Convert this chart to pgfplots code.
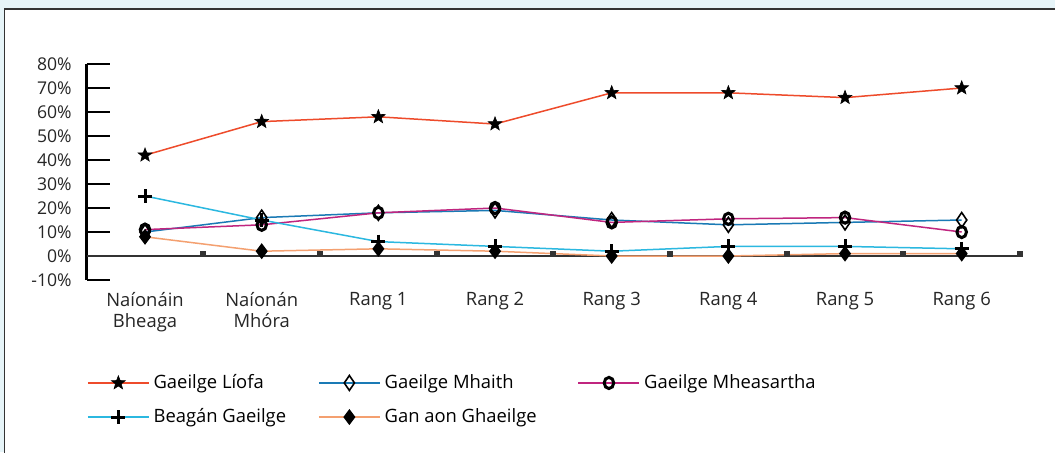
\documentclass[border=0pt]{standalone}
\usepackage{pgfplots}
\pgfplotsset{compat=1.18}
\usepackage{fontspec}
\setmainfont{Open Sans}

\definecolor{bgblue}{HTML}{E6F4F8}
\definecolor{framegray}{HTML}{333333}
\definecolor{zerogray}{HTML}{333333}
\definecolor{cLiofa}{HTML}{EE4B2B}
\definecolor{cMhaith}{HTML}{1A7AB5}
\definecolor{cMheas}{HTML}{C0257F}
\definecolor{cBeagan}{HTML}{2BB8E0}
\definecolor{cGan}{HTML}{F4A070}

% filled five-point star
\pgfdeclareplotmark{fstar}{%
  \pgfpathmoveto{\pgfpointpolar{90}{\pgfplotmarksize}}%
  \pgfpathlineto{\pgfpointpolar{126}{0.42\pgfplotmarksize}}%
  \pgfpathlineto{\pgfpointpolar{162}{\pgfplotmarksize}}%
  \pgfpathlineto{\pgfpointpolar{198}{0.42\pgfplotmarksize}}%
  \pgfpathlineto{\pgfpointpolar{234}{\pgfplotmarksize}}%
  \pgfpathlineto{\pgfpointpolar{270}{0.42\pgfplotmarksize}}%
  \pgfpathlineto{\pgfpointpolar{306}{\pgfplotmarksize}}%
  \pgfpathlineto{\pgfpointpolar{342}{0.42\pgfplotmarksize}}%
  \pgfpathlineto{\pgfpointpolar{18}{\pgfplotmarksize}}%
  \pgfpathlineto{\pgfpointpolar{54}{0.42\pgfplotmarksize}}%
  \pgfpathclose\pgfusepathqfillstroke}

\begin{document}
\begin{tikzpicture}[font=\fontsize{9.2}{10.5}\selectfont]
\useasboundingbox (0,0) rectangle (527.5pt,226pt);
\fill[bgblue] (0,0) rectangle (527.5pt,226pt);
\begin{scope}
  \clip (0,0) rectangle (527.5pt,226pt);
  \filldraw[fill=white,draw=framegray,line width=0.7pt] (2.25pt,-5pt) rectangle (540pt,221.5pt);
\end{scope}
\begin{axis}[
    at={(43.35pt,86pt)}, anchor=south west,
    scale only axis, width=466.67pt, height=108pt,
    xmin=-0.5, xmax=7.5, ymin=-10, ymax=80,
    axis y line*=left, axis x line*=bottom,
    x axis line style={draw=none},
    y axis line style={line width=1.5pt,black},
    xtick={0,...,7},
    xticklabels={{Naíonáin\\Bheaga},{Naíonán\\Mhóra},Rang 1,Rang 2,Rang 3,Rang 4,Rang 5,Rang 6},
    xticklabel style={align=center,yshift=-2.5pt,text=black!85},
    major x tick style={draw=none},
    ytick={-10,0,...,80},
    ytick align=inside, major tick length=11.5pt,
    major y tick style={line width=0.65pt,black},
    yticklabel={\pgfmathprintnumber{\tick}\%},
    yticklabel style={xshift=-4pt,text=black!85,font=\fontsize{8.8}{10}\selectfont},
    tick label style={/pgf/number format/assume math mode=true},
    every axis plot/.append style={line width=0.75pt},
    legend columns=3,
    legend cell align=left,
    legend style={draw=none,fill=none,at={(0,0)},anchor=north west,
        yshift=-45pt,inner sep=0pt,row sep=4.5pt,
        /tikz/column 2/.style={column sep=14pt},
        /tikz/column 4/.style={column sep=18.5pt}},
    legend image code/.code={%
        \draw[mark repeat=2,mark phase=2,#1]
            plot coordinates {(0pt,0pt) (15.25pt,0pt) (30.5pt,0pt)};},
]
\draw[line width=0.65pt,zerogray] (axis cs:-0.5,0) -- (axis cs:7.5,0);
\addplot[forget plot,only marks,mark=square*,mark size=1.1pt,
    mark options={fill=zerogray,draw=zerogray,yshift=0.8pt}]
    coordinates {(0.5,0) (1.5,0) (2.5,0) (3.5,0) (4.5,0) (5.5,0) (6.5,0) (7.5,0)};

\addplot[cLiofa,mark=fstar,mark size=3.6pt,mark options={fill=black,draw=black,line width=0.3pt}]
    coordinates {(0,42) (1,56) (2,58) (3,55) (4,68) (5,68) (6,66) (7,70)};
\addlegendentry{Gaeilge Líofa}
\addplot[cMhaith,mark=diamond,mark size=3.4pt,mark options={fill=white,draw=black,line width=0.8pt,yscale=1.1}]
    coordinates {(0,10) (1,16) (2,18) (3,19) (4,15) (5,13) (6,14) (7,15)};
\addlegendentry{Gaeilge Mhaith}
\addplot[cMheas,mark=o,mark size=2.8pt,mark options={fill=white,draw=black,line width=1.5pt,xscale=0.85}]
    coordinates {(0,11) (1,13) (2,18) (3,20) (4,14) (5,15.5) (6,16) (7,10)};
\addlegendentry{Gaeilge Mheasartha}
\addplot[cBeagan,mark=+,mark size=3.5pt,mark options={draw=black,line width=1.5pt}]
    coordinates {(0,25) (1,15) (2,6) (3,4) (4,2) (5,4) (6,4) (7,3)};
\addlegendentry{Beagán Gaeilge}
\addplot[cGan,mark=diamond*,mark size=3.4pt,mark options={fill=black,draw=black}]
    coordinates {(0,8) (1,2) (2,3) (3,2) (4,0) (5,0) (6,1) (7,1)};
\addlegendentry{Gan aon Ghaeilge}
\end{axis}
\end{tikzpicture}
\end{document}
